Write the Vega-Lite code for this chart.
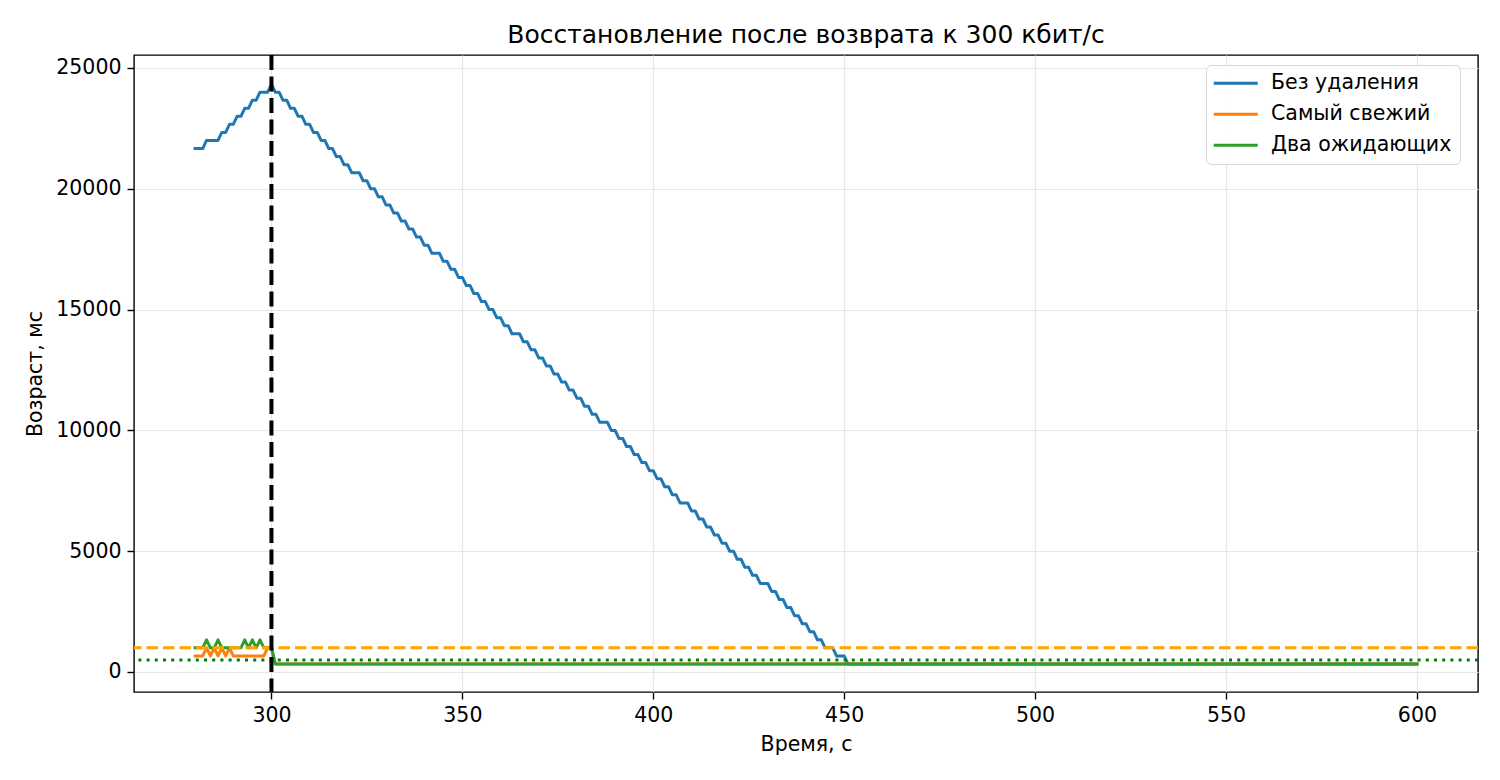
{
  "$schema": "https://vega.github.io/schema/vega-lite/v6.json",
  "width": 1344,
  "height": 637,
  "autosize": {"type": "none"},
  "padding": {"left": 134, "top": 55, "right": 22, "bottom": 88},
  "background": "white",
  "title": {"text": "Восстановление после возврата к 300 кбит/с", "font": "DejaVu Sans", "fontSize": 25, "fontWeight": "normal", "color": "#000000", "offset": 5},
  "config": {
    "font": "DejaVu Sans",
    "view": {"stroke": "#000000", "strokeWidth": 1.4},
    "axis": {"domain": false, "grid": true, "gridColor": "#e6e6e6", "gridWidth": 1.2, "tickColor": "#000000", "tickSize": 7, "tickWidth": 1.4, "labelFont": "DejaVu Sans", "labelFontSize": 20.5, "labelColor": "#000000", "labelPadding": 6, "titleFont": "DejaVu Sans", "titleFontSize": 20.5, "titleFontWeight": "normal", "titleColor": "#000000"},
    "legend": {"labelFont": "DejaVu Sans", "labelFontSize": 20.5, "labelColor": "#000000"}
  },
  "datasets": {
    "series": [
      {"t":280,"b":21667,"o":667,"g":1000},
      {"t":281,"b":21667,"o":667,"g":1000},
      {"t":282,"b":21667,"o":667,"g":1000},
      {"t":283,"b":22000,"o":1000,"g":1333},
      {"t":284,"b":22000,"o":667,"g":1000},
      {"t":285,"b":22000,"o":1000,"g":1000},
      {"t":286,"b":22000,"o":667,"g":1333},
      {"t":287,"b":22333,"o":1000,"g":1000},
      {"t":288,"b":22333,"o":667,"g":1000},
      {"t":289,"b":22667,"o":1000,"g":1000},
      {"t":290,"b":22667,"o":667,"g":1000},
      {"t":291,"b":23000,"o":667,"g":1000},
      {"t":292,"b":23000,"o":667,"g":1000},
      {"t":293,"b":23333,"o":667,"g":1333},
      {"t":294,"b":23333,"o":667,"g":1000},
      {"t":295,"b":23667,"o":667,"g":1333},
      {"t":296,"b":23667,"o":667,"g":1000},
      {"t":297,"b":24000,"o":667,"g":1333},
      {"t":298,"b":24000,"o":667,"g":1000},
      {"t":299,"b":24000,"o":1000,"g":1000},
      {"t":300,"b":24333,"o":1000,"g":1000},
      {"t":301,"b":24000,"o":333,"g":333},
      {"t":302,"b":24000,"o":333,"g":333},
      {"t":303,"b":23667,"o":333,"g":333},
      {"t":304,"b":23667,"o":333,"g":333},
      {"t":305,"b":23333,"o":333,"g":333},
      {"t":306,"b":23333,"o":333,"g":333},
      {"t":307,"b":23000,"o":333,"g":333},
      {"t":308,"b":23000,"o":333,"g":333},
      {"t":309,"b":22667,"o":333,"g":333},
      {"t":310,"b":22667,"o":333,"g":333},
      {"t":311,"b":22333,"o":333,"g":333},
      {"t":312,"b":22333,"o":333,"g":333},
      {"t":313,"b":22000,"o":333,"g":333},
      {"t":314,"b":22000,"o":333,"g":333},
      {"t":315,"b":21667,"o":333,"g":333},
      {"t":316,"b":21667,"o":333,"g":333},
      {"t":317,"b":21333,"o":333,"g":333},
      {"t":318,"b":21333,"o":333,"g":333},
      {"t":319,"b":21000,"o":333,"g":333},
      {"t":320,"b":21000,"o":333,"g":333},
      {"t":321,"b":20667,"o":333,"g":333},
      {"t":322,"b":20667,"o":333,"g":333},
      {"t":323,"b":20667,"o":333,"g":333},
      {"t":324,"b":20333,"o":333,"g":333},
      {"t":325,"b":20333,"o":333,"g":333},
      {"t":326,"b":20000,"o":333,"g":333},
      {"t":327,"b":20000,"o":333,"g":333},
      {"t":328,"b":19667,"o":333,"g":333},
      {"t":329,"b":19667,"o":333,"g":333},
      {"t":330,"b":19333,"o":333,"g":333},
      {"t":331,"b":19333,"o":333,"g":333},
      {"t":332,"b":19000,"o":333,"g":333},
      {"t":333,"b":19000,"o":333,"g":333},
      {"t":334,"b":18667,"o":333,"g":333},
      {"t":335,"b":18667,"o":333,"g":333},
      {"t":336,"b":18333,"o":333,"g":333},
      {"t":337,"b":18333,"o":333,"g":333},
      {"t":338,"b":18000,"o":333,"g":333},
      {"t":339,"b":18000,"o":333,"g":333},
      {"t":340,"b":17667,"o":333,"g":333},
      {"t":341,"b":17667,"o":333,"g":333},
      {"t":342,"b":17333,"o":333,"g":333},
      {"t":343,"b":17333,"o":333,"g":333},
      {"t":344,"b":17333,"o":333,"g":333},
      {"t":345,"b":17000,"o":333,"g":333},
      {"t":346,"b":17000,"o":333,"g":333},
      {"t":347,"b":16667,"o":333,"g":333},
      {"t":348,"b":16667,"o":333,"g":333},
      {"t":349,"b":16333,"o":333,"g":333},
      {"t":350,"b":16333,"o":333,"g":333},
      {"t":351,"b":16000,"o":333,"g":333},
      {"t":352,"b":16000,"o":333,"g":333},
      {"t":353,"b":15667,"o":333,"g":333},
      {"t":354,"b":15667,"o":333,"g":333},
      {"t":355,"b":15333,"o":333,"g":333},
      {"t":356,"b":15333,"o":333,"g":333},
      {"t":357,"b":15000,"o":333,"g":333},
      {"t":358,"b":15000,"o":333,"g":333},
      {"t":359,"b":14667,"o":333,"g":333},
      {"t":360,"b":14667,"o":333,"g":333},
      {"t":361,"b":14333,"o":333,"g":333},
      {"t":362,"b":14333,"o":333,"g":333},
      {"t":363,"b":14000,"o":333,"g":333},
      {"t":364,"b":14000,"o":333,"g":333},
      {"t":365,"b":14000,"o":333,"g":333},
      {"t":366,"b":13667,"o":333,"g":333},
      {"t":367,"b":13667,"o":333,"g":333},
      {"t":368,"b":13333,"o":333,"g":333},
      {"t":369,"b":13333,"o":333,"g":333},
      {"t":370,"b":13000,"o":333,"g":333},
      {"t":371,"b":13000,"o":333,"g":333},
      {"t":372,"b":12667,"o":333,"g":333},
      {"t":373,"b":12667,"o":333,"g":333},
      {"t":374,"b":12333,"o":333,"g":333},
      {"t":375,"b":12333,"o":333,"g":333},
      {"t":376,"b":12000,"o":333,"g":333},
      {"t":377,"b":12000,"o":333,"g":333},
      {"t":378,"b":11667,"o":333,"g":333},
      {"t":379,"b":11667,"o":333,"g":333},
      {"t":380,"b":11333,"o":333,"g":333},
      {"t":381,"b":11333,"o":333,"g":333},
      {"t":382,"b":11000,"o":333,"g":333},
      {"t":383,"b":11000,"o":333,"g":333},
      {"t":384,"b":10667,"o":333,"g":333},
      {"t":385,"b":10667,"o":333,"g":333},
      {"t":386,"b":10333,"o":333,"g":333},
      {"t":387,"b":10333,"o":333,"g":333},
      {"t":388,"b":10333,"o":333,"g":333},
      {"t":389,"b":10000,"o":333,"g":333},
      {"t":390,"b":10000,"o":333,"g":333},
      {"t":391,"b":9667,"o":333,"g":333},
      {"t":392,"b":9667,"o":333,"g":333},
      {"t":393,"b":9333,"o":333,"g":333},
      {"t":394,"b":9333,"o":333,"g":333},
      {"t":395,"b":9000,"o":333,"g":333},
      {"t":396,"b":9000,"o":333,"g":333},
      {"t":397,"b":8667,"o":333,"g":333},
      {"t":398,"b":8667,"o":333,"g":333},
      {"t":399,"b":8333,"o":333,"g":333},
      {"t":400,"b":8333,"o":333,"g":333},
      {"t":401,"b":8000,"o":333,"g":333},
      {"t":402,"b":8000,"o":333,"g":333},
      {"t":403,"b":7667,"o":333,"g":333},
      {"t":404,"b":7667,"o":333,"g":333},
      {"t":405,"b":7333,"o":333,"g":333},
      {"t":406,"b":7333,"o":333,"g":333},
      {"t":407,"b":7000,"o":333,"g":333},
      {"t":408,"b":7000,"o":333,"g":333},
      {"t":409,"b":7000,"o":333,"g":333},
      {"t":410,"b":6667,"o":333,"g":333},
      {"t":411,"b":6667,"o":333,"g":333},
      {"t":412,"b":6333,"o":333,"g":333},
      {"t":413,"b":6333,"o":333,"g":333},
      {"t":414,"b":6000,"o":333,"g":333},
      {"t":415,"b":6000,"o":333,"g":333},
      {"t":416,"b":5667,"o":333,"g":333},
      {"t":417,"b":5667,"o":333,"g":333},
      {"t":418,"b":5333,"o":333,"g":333},
      {"t":419,"b":5333,"o":333,"g":333},
      {"t":420,"b":5000,"o":333,"g":333},
      {"t":421,"b":5000,"o":333,"g":333},
      {"t":422,"b":4667,"o":333,"g":333},
      {"t":423,"b":4667,"o":333,"g":333},
      {"t":424,"b":4333,"o":333,"g":333},
      {"t":425,"b":4333,"o":333,"g":333},
      {"t":426,"b":4000,"o":333,"g":333},
      {"t":427,"b":4000,"o":333,"g":333},
      {"t":428,"b":3667,"o":333,"g":333},
      {"t":429,"b":3667,"o":333,"g":333},
      {"t":430,"b":3667,"o":333,"g":333},
      {"t":431,"b":3333,"o":333,"g":333},
      {"t":432,"b":3333,"o":333,"g":333},
      {"t":433,"b":3000,"o":333,"g":333},
      {"t":434,"b":3000,"o":333,"g":333},
      {"t":435,"b":2667,"o":333,"g":333},
      {"t":436,"b":2667,"o":333,"g":333},
      {"t":437,"b":2333,"o":333,"g":333},
      {"t":438,"b":2333,"o":333,"g":333},
      {"t":439,"b":2000,"o":333,"g":333},
      {"t":440,"b":2000,"o":333,"g":333},
      {"t":441,"b":1667,"o":333,"g":333},
      {"t":442,"b":1667,"o":333,"g":333},
      {"t":443,"b":1333,"o":333,"g":333},
      {"t":444,"b":1333,"o":333,"g":333},
      {"t":445,"b":1000,"o":333,"g":333},
      {"t":446,"b":1000,"o":333,"g":333},
      {"t":447,"b":1000,"o":333,"g":333},
      {"t":448,"b":667,"o":333,"g":333},
      {"t":449,"b":667,"o":333,"g":333},
      {"t":450,"b":667,"o":333,"g":333},
      {"t":451,"b":333,"o":333,"g":333},
      {"t":452,"b":333,"o":333,"g":333},
      {"t":460,"b":333,"o":333,"g":333},
      {"t":470,"b":333,"o":333,"g":333},
      {"t":480,"b":333,"o":333,"g":333},
      {"t":490,"b":333,"o":333,"g":333},
      {"t":500,"b":333,"o":333,"g":333},
      {"t":510,"b":333,"o":333,"g":333},
      {"t":520,"b":333,"o":333,"g":333},
      {"t":530,"b":333,"o":333,"g":333},
      {"t":540,"b":333,"o":333,"g":333},
      {"t":550,"b":333,"o":333,"g":333},
      {"t":560,"b":333,"o":333,"g":333},
      {"t":570,"b":333,"o":333,"g":333},
      {"t":580,"b":333,"o":333,"g":333},
      {"t":590,"b":333,"o":333,"g":333},
      {"t":600,"b":333,"o":333,"g":333}
    ]
  },
  "layer": [
    {
      "data": {"name": "series"},
      "transform": [{"fold": ["b", "o", "g"], "as": ["s", "v"]}],
      "mark": {"type": "line", "strokeWidth": 3, "strokeJoin": "round", "strokeCap": "square"},
      "encoding": {
        "x": {"field": "t", "type": "quantitative", "title": "Время, с",
              "scale": {"domain": [264, 616], "nice": false, "zero": false},
              "axis": {"values": [300, 350, 400, 450, 500, 550, 600], "titlePadding": 9}},
        "y": {"field": "v", "type": "quantitative", "title": "Возраст, мс",
              "scale": {"domain": [-828, 25538], "nice": false, "zero": false},
              "axis": {"values": [0, 5000, 10000, 15000, 20000, 25000], "format": "d", "titlePadding": 10}},
        "color": {"field": "s", "type": "nominal",
                  "scale": {"domain": ["b", "o", "g"], "range": ["#1f77b4", "#ff7f0e", "#2ca02c"]},
                  "legend": {"title": null, "orient": "none", "legendX": 1072, "legendY": 10,
                             "labelExpr": "datum.value == 'b' ? 'Без удаления' : datum.value == 'o' ? 'Самый свежий' : 'Два ожидающих'",
                             "labelLimit": 400,
                             "symbolType": "M-2.75,0L2.75,0", "symbolSize": 256, "symbolStrokeWidth": 3, "symbolOffset": 11.5,
                             "labelOffset": 25, "rowPadding": 10, "padding": 8,
                             "strokeColor": "#d6d6d6", "fillColor": "rgba(255,255,255,0.85)", "cornerRadius": 5}}
      }
    },
    {
      "data": {"values": [{}]},
      "mark": {"type": "rule", "color": "#FFA500", "strokeWidth": 3, "strokeDash": [11.5, 5]},
      "encoding": {"y": {"datum": 1000}}
    },
    {
      "data": {"values": [{}]},
      "mark": {"type": "rule", "color": "#008000", "strokeWidth": 3, "strokeDash": [3, 5.2]},
      "encoding": {"y": {"datum": 500}}
    },
    {
      "data": {"values": [{}]},
      "mark": {"type": "rule", "color": "#000000", "strokeWidth": 4, "strokeDash": [15, 6.5]},
      "encoding": {"x": {"datum": 300}}
    }
  ]
}
